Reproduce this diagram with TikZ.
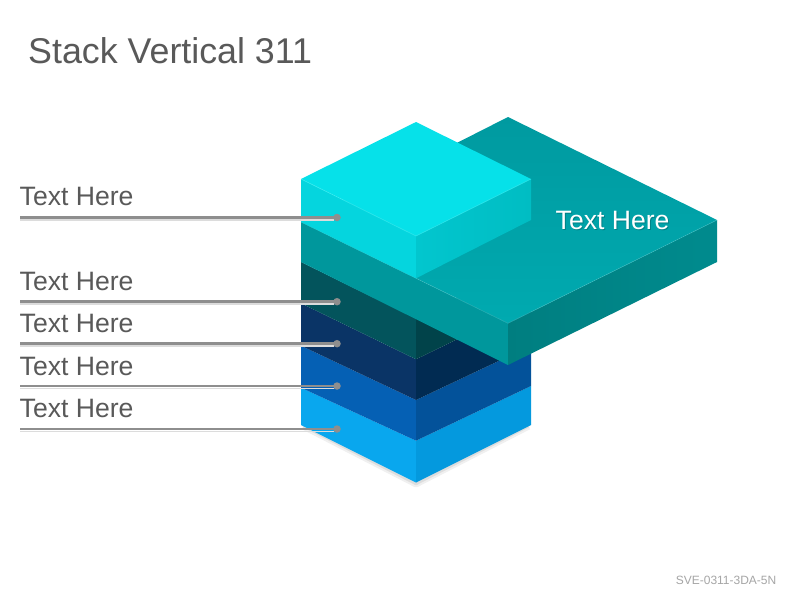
\documentclass[tikz,border=0pt]{standalone}
\usepackage{fontspec}
\setmainfont{Liberation Sans}
\definecolor{titlegray}{HTML}{595959}
\definecolor{footgray}{HTML}{A6A6A6}
\definecolor{leadgray}{HTML}{8E8E8E}
\definecolor{leadshadow}{HTML}{DCDCDC}
\definecolor{lbL}{HTML}{09A7EE}
\definecolor{lbR}{HTML}{0499DE}
\definecolor{bL}{HTML}{0560B4}
\definecolor{bR}{HTML}{03529A}
\definecolor{nL}{HTML}{0A3466}
\definecolor{nR}{HTML}{012B52}
\definecolor{dtL}{HTML}{03545C}
\definecolor{dtR}{HTML}{01434A}
\definecolor{sT1}{HTML}{009AA0}
\definecolor{sT2}{HTML}{00AAB0}
\definecolor{sL}{HTML}{00979C}
\definecolor{sR1}{HTML}{007E80}
\definecolor{sR2}{HTML}{008B8E}
\definecolor{cT}{HTML}{06E1E9}
\definecolor{cL}{HTML}{05D5DE}
\definecolor{cR1}{HTML}{02C6CE}
\definecolor{cR2}{HTML}{00BDC3}
\definecolor{cEdge}{HTML}{40EEF2}
\definecolor{txtshadow}{HTML}{00585C}
\tikzset{
  leader/.style={draw=leadgray, line width=2.6pt},
  leadershade/.style={draw=leadshadow, line width=1.6pt},
  dotnode/.style={circle, fill=leadgray, inner sep=0pt, minimum size=7.5pt},
  lbl/.style={anchor=base west, inner sep=0pt, text=titlegray, font=\fontsize{26.6}{31}\selectfont},
  slablbl/.style={anchor=base west, inner sep=0pt, text=white, font=\fontsize{26.6}{31}\selectfont},
  titlelbl/.style={anchor=base west, inner sep=0pt, text=titlegray, font=\fontsize{35.8}{42}\selectfont},
  footlbl/.style={anchor=base east, inner sep=0pt, text=footgray, font=\fontsize{12}{14}\selectfont},
}
\begin{document}
\begin{tikzpicture}[x=1pt,y=-1pt]
\useasboundingbox (0,0) rectangle (800,600);
\fill[white] (0,0) rectangle (800,600);

% soft shadow below stack
\draw[line width=5pt, black, opacity=0.06, line join=round] (303,427) -- (416,485) -- (529,427);
\draw[line width=2.5pt, black, opacity=0.08, line join=round] (303,426) -- (416,484) -- (529,426);

% light blue layer
\fill[lbL] (301,387.7) -- (416,440.7) -- (416,482.5) -- (301,425) -- cycle;
\fill[lbR] (416,440.7) -- (531,386) -- (531,425) -- (416,482.5) -- cycle;
% blue layer
\fill[bL] (301,345.7) -- (416,400) -- (416,440.7) -- (301,387.7) -- cycle;
\fill[bR] (416,400) -- (531,345.7) -- (531,386) -- (416,440.7) -- cycle;
% navy layer
\fill[nL] (301,303.3) -- (416,359.3) -- (416,400) -- (301,345.7) -- cycle;
\fill[nR] (416,359.3) -- (531,303.3) -- (531,345.7) -- (416,400) -- cycle;
% dark teal layer
\fill[dtL] (301,262) -- (416,318.5) -- (416,359.3) -- (301,303.3) -- cycle;
\fill[dtR] (416,318.5) -- (531,262) -- (531,303.3) -- (416,359.3) -- cycle;

% big teal slab
\fill[sL] (301,222) -- (508,323.3) -- (508,365) -- (301,262) -- cycle;
\shade[left color=sR1, right color=sR2] (508,323.3) -- (717,220) -- (717,262) -- (508,365) -- cycle;
\shade[top color=sT1, bottom color=sT2] (301,222) -- (508,323.3) -- (717,220) -- (508,117) -- cycle;
\draw[sT2!70!white, line width=0.5pt, opacity=0.6] (301,222) -- (508,323.3) -- (717,220);

% cyan top box
\fill[cL] (301,179) -- (416,236) -- (416,278.3) -- (301,222) -- cycle;
\shade[left color=cR1, right color=cR2] (416,236) -- (531,179) -- (531,220) -- (416,278.3) -- cycle;
\fill[cT] (301,179) -- (416,236) -- (531,179) -- (416,122) -- cycle;
\draw[cEdge, line width=0.6pt, opacity=0.7] (301,179) -- (416,236) -- (531,179);

% slab label
\node[slablbl, text=txtshadow, opacity=0.45] (slabtxtsh) at (556.5,230.5) {Text Here};
\node[slablbl] (slabtxt) at (555.5,229) {Text Here};

% leaders
\coordinate (s1) at (20,217.5);
\coordinate (s2) at (20,301.7);
\coordinate (s3) at (20,343.7);
\coordinate (s4) at (20,386);
\coordinate (s5) at (20,429);
\coordinate (h1) at (20,219.8);
\coordinate (h2) at (20,304);
\coordinate (h3) at (20,346);
\coordinate (h4) at (20,388.3);
\coordinate (h5) at (20,431.3);
\coordinate (g1) at (334,219.8);
\coordinate (g2) at (334,304);
\coordinate (g3) at (334,346);
\coordinate (g4) at (334,388.3);
\coordinate (g5) at (334,431.3);
\draw[leadershade] (h1) -- (g1);
\draw[leadershade] (h2) -- (g2);
\draw[leadershade] (h3) -- (g3);
\draw[leadershade] (h4) -- (g4);
\draw[leadershade] (h5) -- (g5);
\node[dotnode] (d1) at (337,217.5) {};
\node[dotnode] (d2) at (337,301.7) {};
\node[dotnode] (d3) at (337,343.7) {};
\node[dotnode] (d4) at (337,386) {};
\node[dotnode] (d5) at (337,429) {};
\draw[leader] (s1) -- (d1.center);
\draw[leader] (s2) -- (d2.center);
\draw[leader] (s3) -- (d3.center);
\draw[leader] (s4) -- (d4.center);
\draw[leader] (s5) -- (d5.center);

% labels
\node[lbl] (t1) at (19.5,205.7) {Text Here};
\node[lbl] (t2) at (19.5,290) {Text Here};
\node[lbl] (t3) at (19.5,332.3) {Text Here};
\node[lbl] (t4) at (19.5,375) {Text Here};
\node[lbl] (t5) at (19.5,417.3) {Text Here};

% title and footer
\node[titlelbl] (title) at (28,63) {Stack Vertical 311};
\node[footlbl] (foot) at (776.5,584) {SVE-0311-3DA-5N};
\end{tikzpicture}
\end{document}
